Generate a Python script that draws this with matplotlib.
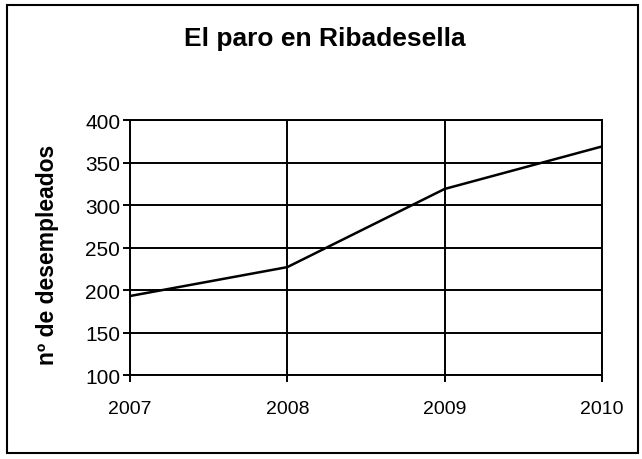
import matplotlib.pyplot as plt
from matplotlib.patches import Rectangle

years = [2007, 2008, 2009, 2010]
parados = [193, 227, 319, 369]
yticks = [100, 150, 200, 250, 300, 350, 400]

plt.rcParams['font.family'] = ['Liberation Sans', 'DejaVu Sans']

fig = plt.figure(figsize=(6.42, 4.60), dpi=100)
ax = fig.add_axes([0.2025, 0.1826, 0.735, 0.554])

# outer frame of the chart area
fig.patches.append(Rectangle((0.011, 0.013), 0.982, 0.974, transform=fig.transFigure,
                             fill=False, edgecolor='black', linewidth=1.5))

ax.plot(years, parados, color='black', linewidth=1.8, zorder=3)

ax.set_xlim(2007, 2010)
ax.set_ylim(100, 400)
ax.set_xticks(years)
ax.set_yticks(yticks)
ax.grid(True, color='black', linewidth=1.4)
for s in ax.spines.values():
    s.set_linewidth(1.4)
ax.tick_params(axis='x', labelsize=14, length=5, width=1.4, pad=13)
ax.tick_params(axis='y', labelsize=15, length=5, width=1.4, pad=2)

fig.text(48 / 642, 0.446, 'nº de desempleados', rotation=90, ha='center', va='center',
         fontsize=16.5, fontweight='bold')
fig.text(0.506, 0.915, 'El paro en Ribadesella', ha='center', va='center',
         fontsize=19, fontweight='bold')

fig.savefig('out.png', dpi=100)
